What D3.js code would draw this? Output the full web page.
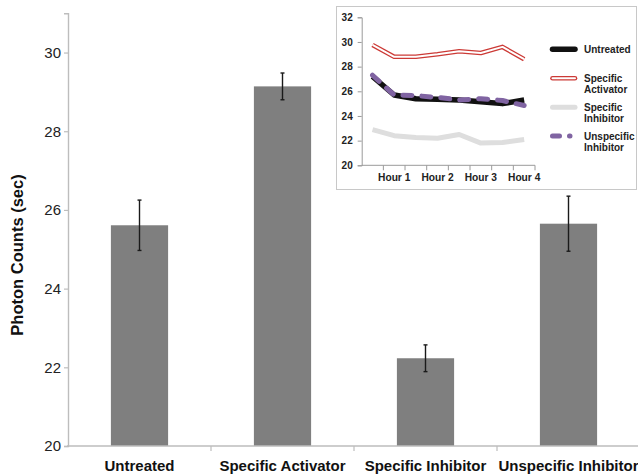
<!DOCTYPE html>
<html>
<head>
<meta charset="utf-8">
<script src="https://cdn.jsdelivr.net/npm/d3@7/dist/d3.min.js"></script>
<style>
  html, body { margin: 0; padding: 0; background: #fff; }
  svg { display: block; font-family: "Liberation Sans", Arial, sans-serif; }
</style>
</head>
<body>
<svg id="chart" width="638" height="476"></svg>
<script>
// Main bar chart: mean photon counts per treatment
const categories = ["Untreated", "Specific Activator", "Specific Inhibitor", "Unspecific Inhibitor"];
const means = [25.61, 29.14, 22.23, 25.65];
const errors = [0.64, 0.34, 0.34, 0.70];
const yTicks = [20, 22, 24, 26, 28, 30];

// Inset: hourly time course (two readings per hour)
const hourSlots = ["s1", "Hour 1", "s3", "Hour 2", "s5", "Hour 3", "s7", "Hour 4"];
const hourLabels = ["Hour 1", "Hour 2", "Hour 3", "Hour 4"];
const insetTicks = [20, 22, 24, 26, 28, 30, 32];
const untreatedSeries = [27.2, 25.7, 25.4, 25.35, 25.3, 25.15, 25.0, 25.3];
const activatorSeries = [29.76, 28.8, 28.8, 29.0, 29.25, 29.1, 29.6, 28.6];
const inhibitorSeries = [22.9, 22.4, 22.25, 22.2, 22.5, 21.8, 21.85, 22.1];
const unspecificSeries = [27.3, 25.7, 25.65, 25.5, 25.3, 25.4, 25.25, 24.85];
const seriesNames = ["Untreated", "Specific Activator", "Specific Inhibitor", "Unspecific Inhibitor"];

const svg = d3.select("#chart");
const axisColor = "#bdbdbd";

// ---------- main chart ----------
const x = d3.scaleBand().domain(categories).range([68, 640]).paddingInner(0.6).paddingOuter(0.3);
const y = d3.scaleLinear().domain([20, 31]).range([446, 13.2]);

const yAxis = svg.append("g")
  .attr("transform", "translate(68,0)")
  .call(d3.axisLeft(y).tickValues(yTicks).tickSize(4).tickPadding(3).tickFormat(d3.format("d")));
yAxis.select(".domain").attr("stroke", axisColor).attr("stroke-width", 1.4);
yAxis.selectAll(".tick line").attr("stroke", axisColor).attr("stroke-width", 1.2);
yAxis.selectAll(".tick text").attr("font-size", 15).attr("fill", "#222")
  .attr("font-family", "Liberation Sans, Arial, sans-serif");

// bars
svg.append("g").selectAll("rect").data(categories).join("rect")
  .attr("x", d => x(d))
  .attr("width", x.bandwidth())
  .attr("y", (d, i) => y(means[i]))
  .attr("height", (d, i) => y(20) - y(means[i]))
  .attr("fill", "#7f7f7f");

// x axis line with category boundary ticks
const xAxis = svg.append("g")
  .attr("transform", "translate(0,446)")
  .call(d3.axisBottom(x).tickSize(0).tickPadding(14));
xAxis.select(".domain").attr("stroke", axisColor).attr("stroke-width", 1.4)
  .attr("d", "M67,0H640");
xAxis.selectAll(".tick text").attr("font-size", 15).attr("font-weight", "bold").attr("fill", "#111")
  .attr("font-family", "Liberation Sans, Arial, sans-serif");
const boundaries = categories.slice(1).map(c => x(c) - x.step() * x.paddingInner() / 2);
xAxis.selectAll(".bound").data(boundaries).join("line")
  .attr("class", "bound")
  .attr("x1", d => d).attr("x2", d => d)
  .attr("y1", 0).attr("y2", 5)
  .attr("stroke", axisColor).attr("stroke-width", 1.2);

// error bars
const eb = svg.append("g").attr("stroke", "#1a1a1a").attr("stroke-width", 1.4);
categories.forEach((c, i) => {
  const cx = x(c) + x.bandwidth() / 2;
  const top = y(means[i] + errors[i]);
  const bot = y(means[i] - errors[i]);
  eb.append("line").attr("x1", cx).attr("x2", cx).attr("y1", top).attr("y2", bot);
  eb.append("line").attr("x1", cx - 2).attr("x2", cx + 2).attr("y1", top).attr("y2", top);
  eb.append("line").attr("x1", cx - 2).attr("x2", cx + 2).attr("y1", bot).attr("y2", bot);
});

// y axis title
svg.append("text")
  .attr("transform", "translate(23,255) rotate(-90)")
  .attr("text-anchor", "middle")
  .attr("font-size", 16.5).attr("font-weight", "bold").attr("fill", "#111")
  .text("Photon Counts (sec)");

// ---------- inset ----------
const inset = svg.append("g");
inset.append("rect")
  .attr("x", 336.5).attr("y", 6.5).attr("width", 300).attr("height", 183)
  .attr("fill", "#fff").attr("stroke", "#c8c8c8").attr("stroke-width", 1);

const ix = d3.scaleBand().domain(hourSlots).range([361.7, 535]).padding(0);
const iy = d3.scaleLinear().domain([20, 32]).range([165.3, 17.3]);
const insetAxisColor = "#9a9a9a";

const iyAxis = inset.append("g")
  .attr("transform", "translate(361.7,0)")
  .call(d3.axisLeft(iy).tickValues(insetTicks).tickSize(4).tickPadding(5).tickFormat(d3.format("d")));
iyAxis.select(".domain").attr("stroke", insetAxisColor).attr("stroke-width", 1);
iyAxis.selectAll(".tick line").attr("stroke", insetAxisColor);
iyAxis.selectAll(".tick text").attr("font-size", 10).attr("font-weight", "bold").attr("fill", "#222")
  .attr("font-family", "Liberation Sans, Arial, sans-serif");

const ixAxis = inset.append("g")
  .attr("transform", "translate(0,165.3)")
  .call(d3.axisBottom(ix).tickSize(0).tickPadding(8).tickFormat(d => hourLabels.includes(d) ? d : ""));
ixAxis.select(".domain").attr("stroke", insetAxisColor).attr("stroke-width", 1)
  .attr("d", "M361.7,0H535");
ixAxis.selectAll(".tick text").attr("font-size", 10.2).attr("font-weight", "bold").attr("fill", "#222")
  .attr("font-family", "Liberation Sans, Arial, sans-serif");
ixAxis.selectAll(".slotTick").data(hourSlots.slice(1).concat(["end"])).join("line")
  .attr("class", "slotTick")
  .attr("x1", d => d === "end" ? 535 : ix(d)).attr("x2", d => d === "end" ? 535 : ix(d))
  .attr("y1", 0).attr("y2", 5)
  .attr("stroke", insetAxisColor);

const line = d3.line().x((d, i) => ix(hourSlots[i]) + ix.bandwidth() / 2).y(d => iy(d));

// series styles, drawn back to front
const styles = {
  "Specific Inhibitor": [{ stroke: "#dedede", width: 5 }],
  "Specific Activator": [{ stroke: "#cc3a36", width: 4.6 }, { stroke: "#fff", width: 2 }],
  "Untreated": [{ stroke: "#111", width: 5.5 }],
  "Unspecific Inhibitor": [{ stroke: "#8064a2", width: 5, dash: "9,10", cap: "round" }]
};
const seriesData = {
  "Untreated": untreatedSeries,
  "Specific Activator": activatorSeries,
  "Specific Inhibitor": inhibitorSeries,
  "Unspecific Inhibitor": unspecificSeries
};
["Specific Inhibitor", "Specific Activator", "Untreated", "Unspecific Inhibitor"].forEach(name => {
  styles[name].forEach(s => {
    inset.append("path")
      .attr("d", line(seriesData[name]))
      .attr("fill", "none")
      .attr("stroke", s.stroke)
      .attr("stroke-width", s.width)
      .attr("stroke-linejoin", "round")
      .attr("stroke-linecap", s.cap || "butt")
      .attr("stroke-dasharray", s.dash || null);
  });
});

// legend
const legendY = [49.3, 78.3, 107.2, 136];
const legendText = [["Untreated"], ["Specific", "Activator"], ["Specific", "Inhibitor"], ["Unspecific", "Inhibitor"]];
const legend = inset.append("g");
seriesNames.forEach((name, i) => {
  const ly = legendY[i];
  styles[name].forEach(s => {
    legend.append("line")
      .attr("x1", 552.5).attr("x2", s.dash ? 570 : 575).attr("y1", ly).attr("y2", ly)
      .attr("stroke", s.stroke).attr("stroke-width", s.width)
      .attr("stroke-linecap", "round")
      .attr("stroke-dasharray", s.dash ? "7,10" : null);
  });
  const t = legend.append("text")
    .attr("x", 584).attr("y", ly + 3.5)
    .attr("font-size", 10).attr("font-weight", "bold").attr("fill", "#222");
  legendText[i].forEach((ln, j) => {
    t.append("tspan").attr("x", 584).attr("dy", j === 0 ? 0 : 11.6).text(ln);
  });
});
</script>
</body>
</html>
